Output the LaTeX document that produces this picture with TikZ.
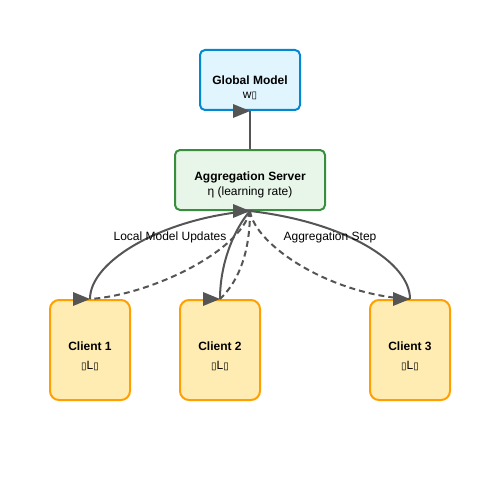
\documentclass[tikz,border=0pt]{standalone}
\usepackage{fontspec}
\setmainfont{Liberation Sans}
\newfontfamily\boxglyph{DejaVu Sans}
\usepackage{tikz}
\usetikzlibrary{positioning}

\definecolor{edgegray}{HTML}{555555}
\definecolor{globalfill}{HTML}{E1F5FE}
\definecolor{globaldraw}{HTML}{0288D1}
\definecolor{serverfill}{HTML}{E8F5E9}
\definecolor{serverdraw}{HTML}{388E3C}
\definecolor{clientfill}{HTML}{FFECB3}
\definecolor{clientdraw}{HTML}{FFA000}

% arrow head that always points right, tip at #1
\newcommand{\headat}[1]{\fill[edgegray] (#1) -- ++(-17,-7) -- ++(0,14) -- cycle;}
\newcommand{\tofu}{{\boxglyph\fontsize{10}{10}\selectfont ▯}}

\tikzset{
  box/.style={draw, line width=2pt, inner sep=0pt},
  globalbox/.style={box, fill=globalfill, draw=globaldraw, rounded corners=5pt, minimum width=100pt, minimum height=60pt},
  serverbox/.style={box, fill=serverfill, draw=serverdraw, rounded corners=5pt, minimum width=150pt, minimum height=60pt},
  clientbox/.style={box, fill=clientfill, draw=clientdraw, rounded corners=9pt, minimum width=80pt, minimum height=100pt},
  title/.style={anchor=base, inner sep=0pt, font=\bfseries\fontsize{12}{14}\selectfont},
  sub/.style={anchor=base, inner sep=0pt, font=\fontsize{12}{14}\selectfont},
  link/.style={edgegray, line width=2pt},
  dashlink/.style={link, dash pattern=on 6pt off 4pt},
}

\begin{document}
\begin{tikzpicture}[line cap=butt,line join=round,x=1pt,y=-1pt]
  \useasboundingbox (0,0) rectangle (500,500);

  % boxes
  \node[globalbox] (global) at (250,80) {};
  \node[title] (globaltitle) at (250,85) {Global Model};
  \node[sub] (globalsub) at (250,99) {w\tofu};

  \node[serverbox] (server) at (250,180) {};
  \node[title] (servertitle) at (250,180) {Aggregation Server};
  \node[sub] (serversub) at (250,195) {η (learning rate)};

  \node[clientbox] (client1) at (90,350) {};
  \node[title] (client1title) at (90,350) {Client 1};
  \node[sub] (client1sub) at (90,369) {\tofu L\tofu};

  \node[clientbox] (client2) at (220,350) {};
  \node[title] (client2title) at (220,350) {Client 2};
  \node[sub] (client2sub) at (220,369) {\tofu L\tofu};

  \node[clientbox] (client3) at (410,350) {};
  \node[title] (client3title) at (410,350) {Client 3};
  \node[sub] (client3sub) at (410,369) {\tofu L\tofu};

  % connectors
  \draw[link] (server.north) -- (global.south);

  \draw[link] (client3.north) .. controls (410,262) and (345,222) .. (server.south);
  \draw[link] (client2.north) .. controls (220,262) and (235,228) .. (server.south);
  \draw[link] (client1.north) .. controls (90,260) and (165,218) .. (server.south);

  \draw[dashlink] (server.south) .. controls (240,252) and (150,295) .. (client1.north);
  \draw[dashlink] (server.south) .. controls (250,250) and (240,280) .. (client2.north);
  \draw[dashlink] (server.south) .. controls (255,245) and (330,295) .. (client3.north);

  \headat{global.south}
  \headat{server.south}
  \headat{client1.north}
  \headat{client2.north}
  \headat{client3.north}

  % labels
  \node[sub] (updateslabel) at (170,240) {Local Model Updates};
  \node[sub] (steplabel) at (330,240) {Aggregation Step};
\end{tikzpicture}
\end{document}
